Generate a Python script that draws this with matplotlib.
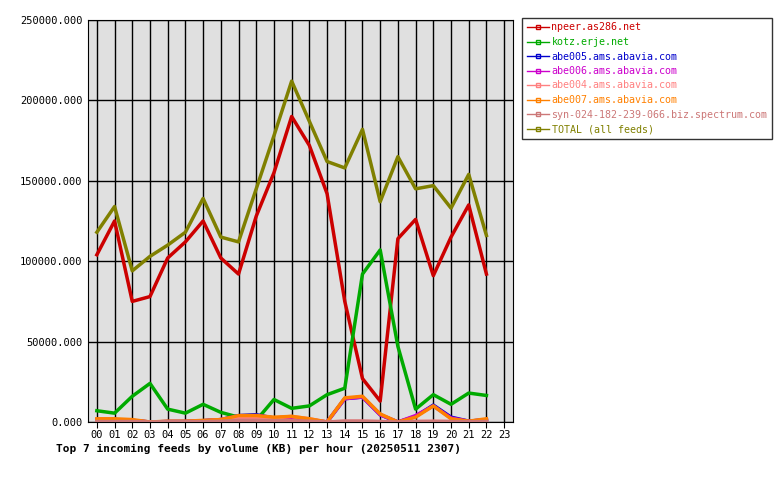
import matplotlib
matplotlib.use("Agg")
import matplotlib.pyplot as plt
from matplotlib.ticker import FuncFormatter

hours = list(range(23))
tick_labels = [f"{h:02d}" for h in range(24)]

npeer = [104000, 125000, 75000, 78000, 102000, 112000, 125000, 102000, 92000, 128000, 155000, 190000,
         172000, 142000, 75000, 27000, 13000, 114000, 126000, 91000, 115000, 135000, 92000]
kotz = [7000, 5500, 16000, 24000, 8000, 5500, 11000, 6000, 3000, 1000, 14000, 8500,
        10000, 17000, 21000, 92000, 107000, 47000, 8000, 17000, 11000, 18000, 16500]
abe005 = [1500, 1500, 1000, 0, 300, 300, 800, 1500, 4000, 4500, 2500, 3000,
          1500, 0, 14500, 15500, 4500, 0, 3500, 10500, 3000, 500, 1500]
abe006 = [1500, 1500, 1000, 0, 300, 300, 800, 1500, 3500, 4000, 2500, 3000,
          1500, 0, 14500, 15500, 4500, 0, 4000, 10000, 2500, 500, 1500]
abe004 = [500, 500, 500, 0, 200, 200, 500, 1500, 2500, 2500, 2500, 3500,
          2000, 0, 500, 500, 200, 0, 300, 500, 300, 200, 500]
abe007 = [2000, 2000, 1500, 0, 500, 500, 1000, 1500, 4000, 4000, 3000, 3500,
          2000, 0, 15000, 16000, 5000, 0, 3000, 10000, 2000, 500, 2000]
syn = [300, 300, 300, 0, 200, 200, 300, 500, 1000, 1000, 800, 800,
       500, 0, 500, 500, 300, 0, 300, 300, 300, 200, 300]
total = [118000, 134000, 94000, 103000, 110000, 118000, 139000, 115000, 112000, 145000, 178000, 212000,
         187000, 162000, 158000, 182000, 137000, 165000, 145000, 147000, 133000, 154000, 116000]

series = [
    ("npeer.as286.net", npeer, "#cc0000"),
    ("kotz.erje.net", kotz, "#00aa00"),
    ("abe005.ams.abavia.com", abe005, "#0000cc"),
    ("abe006.ams.abavia.com", abe006, "#cc00cc"),
    ("abe004.ams.abavia.com", abe004, "#ff8080"),
    ("abe007.ams.abavia.com", abe007, "#ff8000"),
    ("syn-024-182-239-066.biz.spectrum.com", syn, "#cc7777"),
    ("TOTAL (all feeds)", total, "#808000"),
]

plt.rcParams["font.family"] = "DejaVu Sans Mono"
fig = plt.figure(figsize=(7.8, 4.8), dpi=100)
ax = fig.add_axes([88 / 780, 58 / 480, 425 / 780, 402 / 480])
ax.set_facecolor("#e0e0e0")

for name, vals, col in series:
    ax.plot(hours, vals, color=col, lw=2.5, label=name, zorder=3)

ax.set_xlim(-0.5, 23.5)
ax.set_ylim(0, 250000)
ax.set_xticks(range(24))
ax.set_xticklabels(tick_labels, fontsize=7.5)
ax.set_yticks(range(0, 250001, 50000))
ax.yaxis.set_major_formatter(FuncFormatter(lambda v, p: f"{v:.3f}"))
ax.tick_params(axis="y", labelsize=7.5, length=0, pad=4)
ax.tick_params(axis="x", length=4, direction="out", pad=2)
ax.grid(True, color="black", lw=1, zorder=1)
ax.set_axisbelow(True)
ax.set_xlabel("Top 7 incoming feeds by volume (KB) per hour (20250511 2307)",
              fontsize=8, fontweight="bold", loc="left", labelpad=4)
ax.xaxis.set_label_coords(-0.075, -0.055)

leg = fig.legend(loc="upper left", bbox_to_anchor=(522 / 780, 1 - 18 / 480), fontsize=7.2,
                 frameon=True, fancybox=False, edgecolor="black", handlelength=2.2,
                 handletextpad=0.3, borderpad=0.45, labelspacing=0.45, borderaxespad=0)
leg.get_frame().set_linewidth(1)
for txt, (_, _, col) in zip(leg.get_texts(), series):
    txt.set_color(col)
for h in leg.get_lines():
    h.set_linewidth(1)
    h.set_marker("s")
    h.set_markersize(3)
    h.set_markerfacecolor("none")

fig.savefig("out.png", dpi=100)
